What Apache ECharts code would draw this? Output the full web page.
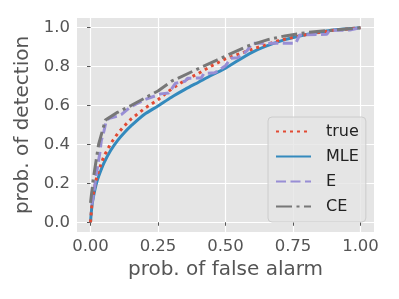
<!DOCTYPE html>
<html><head><meta charset="utf-8">
<script src="https://cdn.jsdelivr.net/npm/echarts@6/dist/echarts.min.js"></script>
<style>html,body{margin:0;padding:0;background:#fff}#c{width:399px;height:299px}</style>
</head><body><div id="c"></div>
<script>
// Data
const xTicks = [0, 0.25, 0.5, 0.75, 1.0];
const yTicks = [0, 0.2, 0.4, 0.6, 0.8, 1.0];
const seriesNames = ['true', 'MLE', 'E', 'CE'];

const smoothX = [0, 0.005, 0.01, 0.02, 0.03, 0.05, 0.075, 0.1, 0.125, 0.15, 0.2, 0.25, 0.3, 0.35, 0.4, 0.45, 0.5, 0.6, 0.7, 0.8, 0.9, 1.0];
const trueY   = [0, 0.09, 0.14, 0.215, 0.265, 0.34, 0.405, 0.455, 0.495, 0.53, 0.585, 0.63, 0.685, 0.73, 0.765, 0.805, 0.84, 0.89, 0.935, 0.965, 0.987, 1.0];
const mleY    = [0, 0.08, 0.125, 0.19, 0.235, 0.305, 0.37, 0.42, 0.46, 0.495, 0.555, 0.598, 0.643, 0.683, 0.72, 0.757, 0.792, 0.875, 0.93, 0.965, 0.988, 1.0];

const eX = [0.005, 0.012, 0.02, 0.028, 0.035, 0.04, 0.05, 0.058, 0.07, 0.1, 0.115, 0.15, 0.2, 0.26, 0.29, 0.315, 0.35, 0.36, 0.41, 0.42, 0.46, 0.5, 0.52, 0.545, 0.58, 0.6, 0.76, 0.775, 0.875, 0.885, 0.96, 1.0];
const eY = [0.09, 0.15, 0.23, 0.3, 0.36, 0.42, 0.47, 0.52, 0.535, 0.545, 0.555, 0.595, 0.63, 0.66, 0.665, 0.715, 0.725, 0.74, 0.742, 0.765, 0.768, 0.805, 0.843, 0.846, 0.882, 0.92, 0.92, 0.963, 0.966, 0.986, 0.988, 1.0];

const ceX = [0, 0.01, 0.03, 0.055, 0.1, 0.15, 0.25, 0.3, 0.4, 0.47, 0.58, 0.66, 0.72, 0.8, 0.9, 1.0];
const ceY = [0.1, 0.22, 0.4, 0.525, 0.565, 0.6, 0.675, 0.725, 0.79, 0.835, 0.905, 0.94, 0.958, 0.975, 0.988, 1.0];

function zip(xs, ys) { return xs.map((x, i) => [x, ys[i]]); }

const chart = echarts.init(document.getElementById('c'), null, {renderer: 'canvas'});
const tickText = {color: '#555555', fontFamily: 'DejaVu Sans', fontSize: 16.5};
chart.setOption({
  animation: false,
  backgroundColor: '#ffffff',
  grid: {left: 77, right: 25, top: 18, bottom: 67, show: true, backgroundColor: '#E5E5E5', borderWidth: 0},
  xAxis: {
    type: 'value', min: -0.05, max: 1.05,
    name: 'prob. of false alarm', nameLocation: 'middle', nameGap: 25,
    nameTextStyle: {color: '#555555', fontFamily: 'DejaVu Sans', fontSize: 20},
    axisLine: {show: false},
    axisTick: {show: true, length: 3.5, lineStyle: {color: '#555555', width: 1}, customValues: xTicks},
    axisLabel: Object.assign({customValues: xTicks, margin: 6, formatter: v => v.toFixed(2)}, tickText),
    splitLine: {show: true, lineStyle: {color: '#ffffff', width: 1.2}}
  },
  yAxis: {
    type: 'value', min: -0.05, max: 1.05,
    name: 'prob. of detection', nameLocation: 'middle', nameGap: 39,
    nameTextStyle: {color: '#555555', fontFamily: 'DejaVu Sans', fontSize: 20},
    axisLine: {show: false},
    axisTick: {show: true, length: 3.5, lineStyle: {color: '#555555', width: 1}, customValues: yTicks},
    axisLabel: Object.assign({customValues: yTicks, margin: 7, formatter: v => v.toFixed(1)}, tickText),
    splitLine: {show: true, lineStyle: {color: '#ffffff', width: 1.2}}
  },
  legend: {
    orient: 'vertical', left: 268, top: 117,
    data: seriesNames,
    itemWidth: 35, itemHeight: 14, itemGap: 6,
    padding: [5, 7, 6, 7],
    itemStyle: {opacity: 0},
    backgroundColor: 'rgba(229,229,229,0.8)', borderColor: '#CCCCCC', borderWidth: 1, borderRadius: 4,
    textStyle: {color: '#222222', fontFamily: 'DejaVu Sans', fontSize: 16, lineHeight: 19, padding: [0, 0, 0, 10]}
  },
  series: [
    {name: 'true', type: 'line', data: zip(smoothX, trueY), showSymbol: false, symbol: 'none', z: 4,
     lineStyle: {color: '#E24A33', width: 3, type: [3, 4]}, itemStyle: {color: '#E24A33'}},
    {name: 'MLE', type: 'line', data: zip(smoothX, mleY), showSymbol: false, symbol: 'none', smooth: 0.3, z: 3,
     lineStyle: {color: '#348ABD', width: 3}, itemStyle: {color: '#348ABD'}},
    {name: 'E', type: 'line', data: zip(eX, eY), showSymbol: false, symbol: 'none', z: 5,
     lineStyle: {color: '#988ED5', width: 3, type: [10, 4.5]}, itemStyle: {color: '#988ED5'}},
    {name: 'CE', type: 'line', data: zip(ceX, ceY), showSymbol: false, symbol: 'none', z: 6,
     lineStyle: {color: '#777777', width: 3, type: [16, 4.5, 3, 4.5]}, itemStyle: {color: '#777777'}}
  ]
});
</script></body></html>
